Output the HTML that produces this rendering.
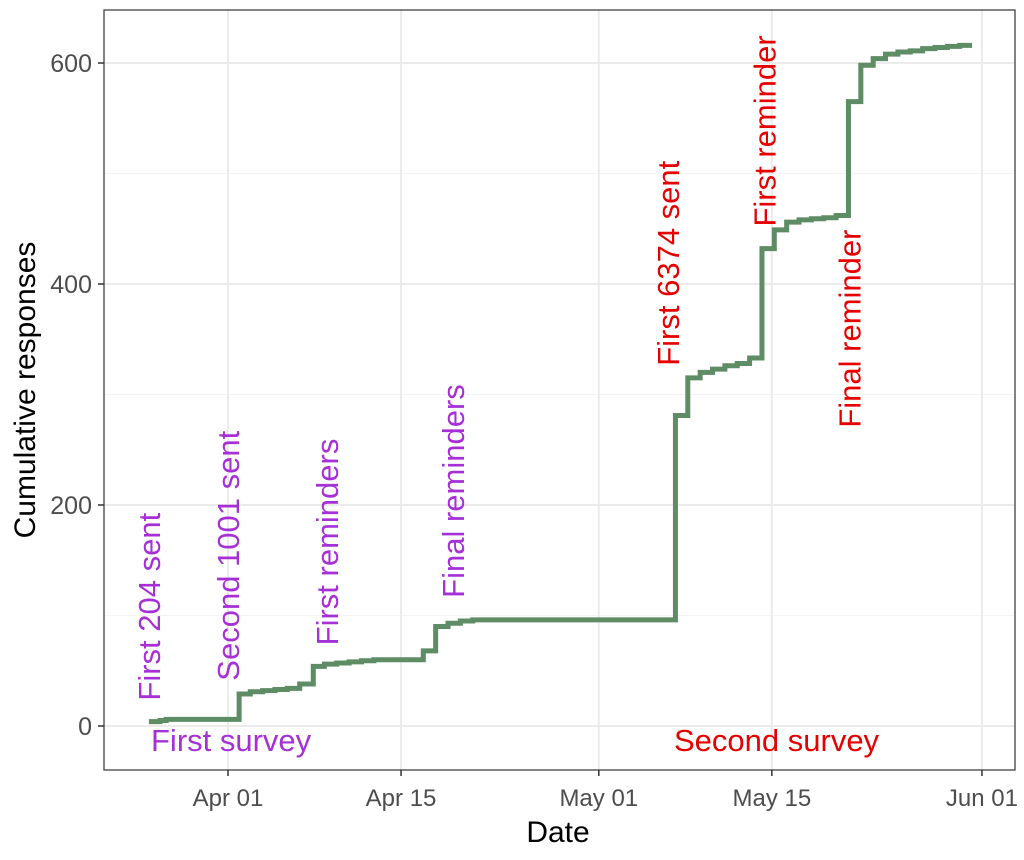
<!DOCTYPE html>
<html><head><meta charset="utf-8"><style>
body{margin:0;background:#fff;}
svg text{font-family:"Liberation Sans",Arial,sans-serif;}
</style></head><body>
<svg id="chart" width="1024" height="855" viewBox="0 0 1024 855" xmlns="http://www.w3.org/2000/svg">
<rect width="1024" height="855" fill="#fff"/>
<g id="grid"></g>
<g id="annot"></g>
<g id="series"></g>
<rect x="104" y="10" width="911" height="760" fill="none" stroke="#333" stroke-width="1.2"/>
<g id="axes"></g>
<text x="558" y="842" font-size="30" text-anchor="middle" fill="#000">Date</text>
<text transform="translate(35,390) rotate(-90)" font-size="30" text-anchor="middle" fill="#000">Cumulative responses</text>
</svg>
<script>
// days since Apr 01 and cumulative responses
const days = [-6.4,-5.5,-5,-4,-3,-2,-1,0,0.9,1.8,2.8,3.8,4.8,5.8,6.9,7.8,8.8,9.8,10.8,11.8,12.8,13.8,14.8,15.8,16.8,17.8,18.8,19.8,20.8,36.2,37.2,38.2,39.2,40.2,41.2,42.2,43.2,44.2,45.2,46.2,47.2,48.2,49.2,50.2,51.2,52.2,53.2,54.2,55.2,56.2,57.2,58.2,59.2];
const values=[4,5,6,6,6,6,6,6,29,31,32,33,34,38,54,56,57,58,59,60,60,60,60,68,90,93,95,96,96,281,315,320,323,326,328,333,432,449,456,458,459,460,462,565,598,604,608,610,611,613,614,615,616];
const endDay = 60.2;
const yTicks=[0,200,400,600];
const xTickDays=[0,14,30,44,61];
const xTickLabels=["Apr 01","Apr 15","May 01","May 15","Jun 01"];
const labelsText=["First 204 sent","Second 1001 sent","First reminders","Final reminders","First 6374 sent","First reminder","Final reminder"];
const labelDays=[-6.4,0,8,18.2,35.6,43.4,50.3];
const labelVals=[23,41,73,116,326,452,270];
const labelColors=["#a62fd6","#a62fd6","#a62fd6","#a62fd6","#e60000","#e60000","#e60000"];

const X=d=>228+d*12.36;
const Y=v=>726-v*1.105;
const NS="http://www.w3.org/2000/svg";
function mk(tag,attrs,parent){const e=document.createElementNS(NS,tag);for(const k in attrs)e.setAttribute(k,attrs[k]);parent.appendChild(e);return e;}
const grid=document.getElementById('grid'),axes=document.getElementById('axes'),annot=document.getElementById('annot'),series=document.getElementById('series');
for(let i=0;i<yTicks.length-1;i++){const v=(yTicks[i]+yTicks[i+1])/2;const l=mk('line',{x1:104,x2:1015,y1:Y(v),y2:Y(v),stroke:'#f3f3f3','stroke-width':1},grid);
}
yTicks.forEach(v=>{const l=mk('line',{x1:104,x2:1015,y1:Y(v),y2:Y(v),stroke:'#ebebeb','stroke-width':2},grid);

const t=mk('line',{x1:98,x2:104,y1:Y(v),y2:Y(v),stroke:'#333','stroke-width':1.5},axes);

const tx=mk('text',{x:92,y:Y(v)+9,'font-size':25,'text-anchor':'end',fill:'#4d4d4d'},axes);tx.textContent=v;
});
xTickDays.forEach((d,i)=>{const l=mk('line',{x1:X(d),x2:X(d),y1:10,y2:770,stroke:'#ebebeb','stroke-width':2},grid);

const t=mk('line',{x1:X(d),x2:X(d),y1:770,y2:776,stroke:'#333','stroke-width':1.5},axes);

const tx=mk('text',{x:X(d),y:806,'font-size':24,'text-anchor':'middle',fill:'#4d4d4d'},axes);tx.textContent=xTickLabels[i];
});
labelsText.forEach((s,i)=>{const x=X(labelDays[i])+11,y=Y(labelVals[i]);
const t=mk('text',{transform:`translate(${x},${y}) rotate(-90)`,'font-size':31,fill:labelColors[i]},annot);t.textContent=s;
});
const s1=mk('text',{x:151,y:751,'font-size':31,fill:'#a62fd6'},annot);s1.textContent='First survey';

const s2=mk('text',{x:674,y:751,'font-size':31,fill:'#e60000'},annot);s2.textContent='Second survey';

let d='M'+X(days[0])+','+Y(values[0]);
for(let i=1;i<days.length;i++){d+=' H'+X(days[i])+' V'+Y(values[i]);}
d+=' H'+X(endDay);
const p=mk('path',{d:d,fill:'none',stroke:'#5e8c64','stroke-width':5},series);

</script>
</body></html>
